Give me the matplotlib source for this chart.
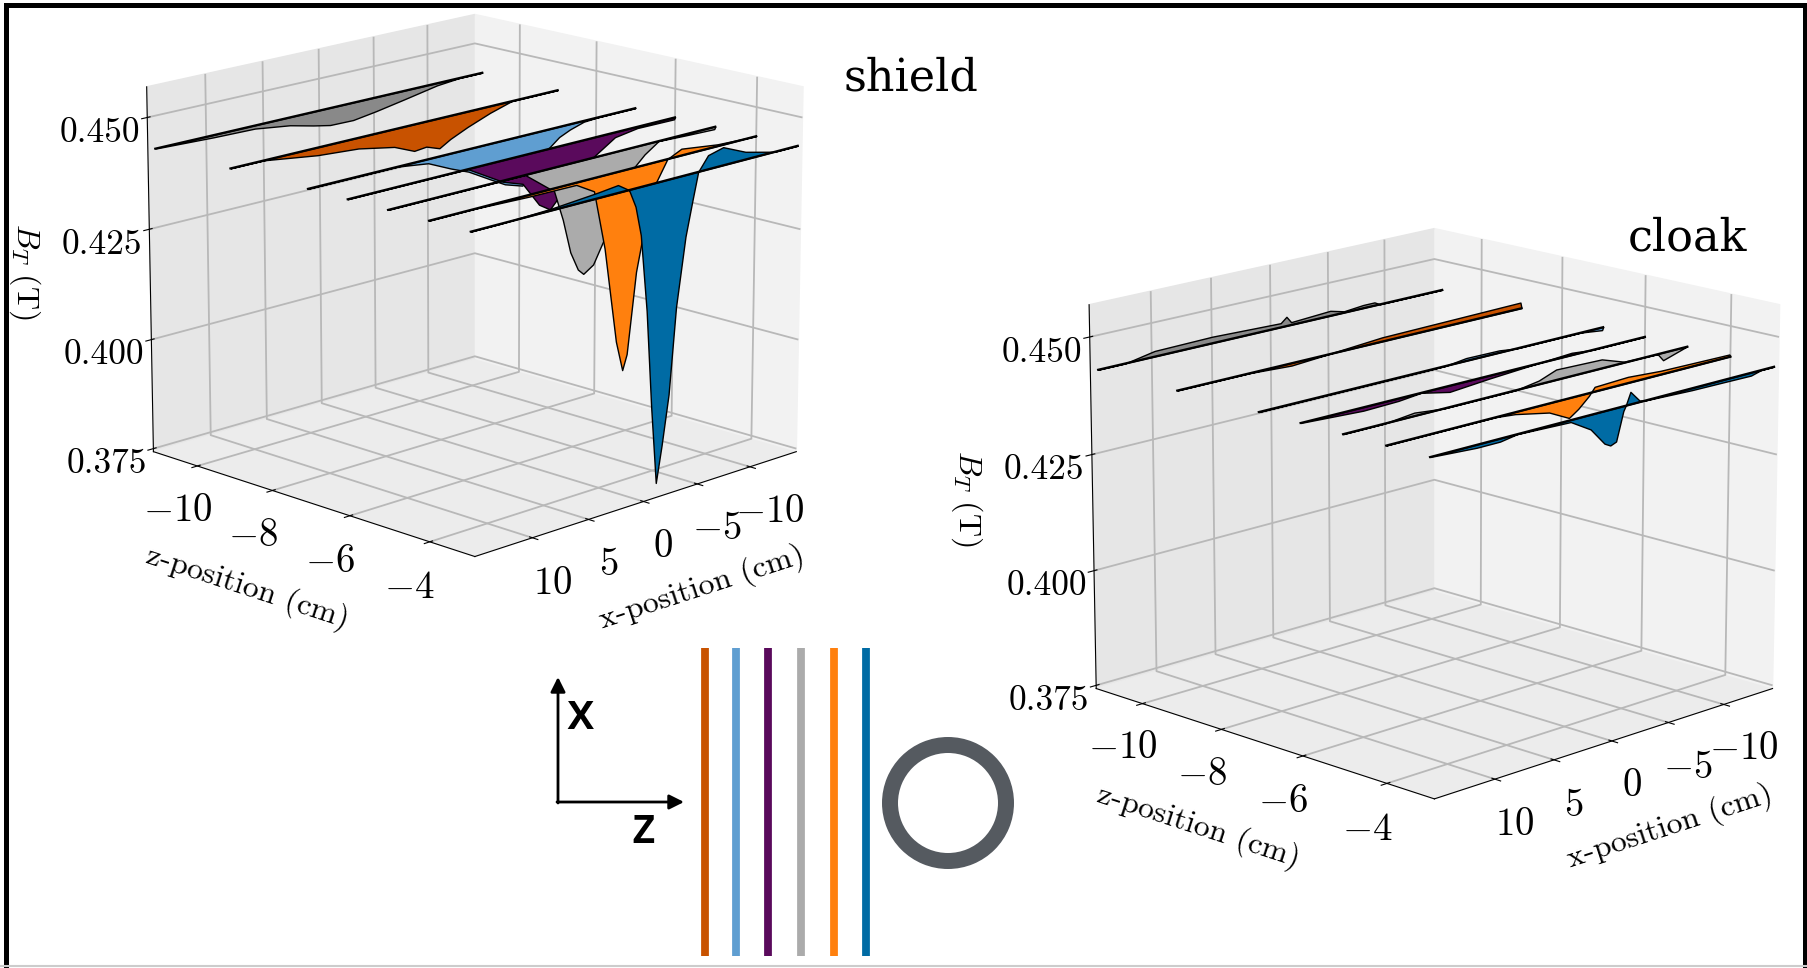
import numpy as np
import matplotlib
matplotlib.use('Agg')
import matplotlib.pyplot as plt
from matplotlib.patches import Rectangle, Wedge
from mpl_toolkits.mplot3d.art3d import Poly3DCollection

plt.rcParams['font.family'] = ['cmr10', 'DejaVu Serif']
plt.rcParams['mathtext.fontset'] = 'cm'
plt.rcParams['axes.formatter.use_mathtext'] = True

W, H = 1807, 968

# scan planes (z-position in cm), back to front
z_planes = [-11, -9, -7, -6, -5, -4, -3]
colors = ['#898989', '#C85200', '#5F9ED1', '#5A0A5C', '#ABABAB', '#FF800E', '#006BA4']
baseline = 0.4435
x_ends = [15, -14.5]

# shield profiles
sh_x1 = [15, 10, 6.4, 3.3, 1.2, -0.3, -2.4, -4.5, -7.1, -10.2, -12.3, -14.5]
sh_b1 = [.4435, .4430, .4428, .4417, .4404, .4396, .4395, .4403, .4415, .4430, .4435, .4435]
sh_x2 = [15, 12.1, 7.5, 3.9, 0.7, -1.1, -2.2, -3.4, -4.4, -6, -8.1, -10.1, -14.5]
sh_b2 = [.4435, .4435, .4418, .4411, .4395, .4375, .4378, .4367, .4382, .44, .442, .4435, .4435]
sh_x3 = [15, 7.2, 4.6, 2.6, 1, -1, -2.3, -3.9, -6.2, -7.3, -8.3, -9.6, -10.9, -14.5]
sh_b3 = [.4435, .4435, .4426, .4402, .4385, .4355, .4336, .4323, .439, .4412, .4423, .4433, .4435, .4435]
sh_x4 = [15, 4.6, 1.5, -0.3, -1.8, -2.8, -4.7, -7, -8.8, -10.9, -14.4, -14.5]
sh_b4 = [.4435, .4435, .4388, .4372, .4316, .4299, .4352, .4395, .4424, .4432, .4431, .4435]
sh_x5 = [15, 3.1, 0.5, -0.3, -1, -1.7, -2.2, -3.1, -3.9, -5.2, -6.5, -7.8, -9.1, -11.9, -14.4, -14.5]
sh_b5 = [.4435, .4435, .4383, .4315, .4238, .4195, .4182, .4197, .4237, .43, .4382, .4413, .4435, .4432, .4430, .4435]
sh_x6 = [15, 11, 6.3, 2.2, 0.6, -0.4, -1.5, -2.1, -2.5, -3.3, -4.6, -6.1, -7.4, -10.8, -14.4, -14.5]
sh_b6 = [.4435, .4435, .4431, .443, .4406, .4274, .4060, .3992, .4025, .4203, .4369, .4435, .445, .4439, .4435, .4435]
sh_x7 = [15, 12.5, 8, 4, 2.2, 1.2, 0.6, 0.1, -0.5, -1, -1.5, -2, -2.6, -3.2, -4, -4.6, -5.1, -6, -7.4, -9.5, -12.3, -14.5]
sh_b7 = [.4435, .4435, .4439, .4447, .4452, .4435, .4395, .4330, .4160, .3945, .3770, .3850, .3960, .4150, .4300, .4375, .4435, .4466, .4475, .4452, .4435, .4435]

# cloak profiles
cl_x1 = [15, 12.8, 10.4, 5.6, -0.2, -0.7, -1.1, -4.5, -5.7, -7.4, -8.4, -8.9, -14.5]
cl_b1 = [.4435, .4435, .4447, .4449, .4444, .4455, .4441, .4446, .4438, .4442, .4442, .4435, .4435]
cl_x2 = [15, 9, 5.6, 2.7, 1.7, -2.1, -14.4, -14.5]
cl_b2 = [.4435, .4435, .4430, .4435, .4437, .4444, .4448, .4435]
cl_x3 = [15, -0.5, -2.3, -5.2, -6.7, -12.5, -14.4, -14.5]
cl_b3 = [.4435, .4435, .4441, .4440, .4435, .4435, .4429, .4435]
cl_x4 = [15, 9.9, 7, 5.1, 2.7, -0.7, -4.5, -7.9, -9.8, -14.5]
cl_b4 = [.4435, .4428, .443, .4435, .4422, .4429, .4435, .4440, .4435, .4435]
cl_x5 = [15, 11.7, 9.2, 6.7, 0.7, -1.3, -2.8, -6.8, -8.8, -11.8, -12.3, -14.4, -14.5]
cl_b5 = [.4435, .4435, .4442, .4435, .4435, .4443, .4457, .4454, .4437, .4435, .4419, .4435, .4435]
cl_x6 = [15, 6, 4.4, 1.5, -0.2, -1, -1.9, -2.4, -5.3, -8.2, -14.4, -14.5]
cl_b6 = [.4435, .4435, .4431, .4416, .4394, .4408, .4429, .4445, .4448, .4443, .4440, .4435]
cl_x7 = [15, 11.2, 9.3, 7.9, 3.4, 1.7, 0.5, 0, -0.5, -1.1, -1.3, -1.7, -2.5, -3.1, -7.1, -10, -12.4, -13.3, -14.5]
cl_b7 = [.4435, .4429, .4429, .4435, .4431, .4405, .4368, .4361, .4366, .4425, .4435, .4461, .4438, .4435, .4431, .443, .4429, .4435, .4435]

shield = [(sh_x1, sh_b1), (sh_x2, sh_b2), (sh_x3, sh_b3), (sh_x4, sh_b4),
          (sh_x5, sh_b5), (sh_x6, sh_b6), (sh_x7, sh_b7)]
cloak = [(cl_x1, cl_b1), (cl_x2, cl_b2), (cl_x3, cl_b3), (cl_x4, cl_b4),
         (cl_x5, cl_b5), (cl_x6, cl_b6), (cl_x7, cl_b7)]

z_ticks = [-10, -8, -6, -4]
x_ticks = [-10, -5, 0, 5, 10]
b_ticks = [0.375, 0.400, 0.425, 0.450]
b_labels = ['0.375', '0.400', '0.425', '0.450']

# schematic
strip_x = [705, 736, 768, 801, 834, 866]
strip_colors = colors[1:]


def draw_panel(rect, profiles):
    ax = fig.add_axes(rect, projection='3d')
    ax.computed_zorder = False
    ax.patch.set_alpha(0)
    ax.view_init(elev=15.7, azim=45)
    ax.set_proj_type('persp', focal_length=1.25)
    ax.set_box_aspect((4, 4, 3.3))
    for i, (x, b) in enumerate(profiles):
        z = z_planes[i]
        verts = [list(zip(x, np.full(len(x), z), b))]
        poly = Poly3DCollection(verts, facecolor=colors[i], edgecolor='black',
                                linewidth=1.0, zorder=2 * i + 1)
        ax.add_collection3d(poly)
        ax.plot(x_ends, [z, z], [baseline, baseline], color='black', lw=1.5, zorder=2 * i + 2)
    ax.set_xlim(-14.5, 15)
    ax.set_ylim(-11.2, -2.9)
    ax.set_zlim(0.3743, 0.4568)
    ax.set_xticks(x_ticks)
    ax.set_yticks(z_ticks)
    ax.set_zticks(b_ticks)
    ax.set_zticklabels(b_labels)
    ax.tick_params(axis='z', labelsize=25.5, pad=12)
    ax.tick_params(axis='x', labelsize=28, pad=8)
    ax.tick_params(axis='y', labelsize=28, pad=8)
    ax.xaxis.set_pane_color((0.95, 0.95, 0.95, 1))
    ax.yaxis.set_pane_color((0.90, 0.90, 0.90, 1))
    ax.zaxis.set_pane_color((0.925, 0.925, 0.925, 1))
    for a in (ax.xaxis, ax.yaxis, ax.zaxis):
        a._axinfo['grid']['color'] = '#b8b8b8'
        a._axinfo['grid']['linewidth'] = 1.3
    ax.set_xlabel('x-position (cm)', fontsize=23, labelpad=28, rotation=22)
    ax.set_ylabel('z-position (cm)', fontsize=23, labelpad=28, rotation=-22)
    ax.zaxis.set_rotate_label(False)
    ax.set_zlabel('$B_T$ (T)', fontsize=23, labelpad=32, rotation=-90)
    return ax


fig = plt.figure(figsize=(W / 100, H / 100), dpi=100)

draw_panel([(465 - 365) / W, 1 - (281 + 365) / H, 730 / W, 730 / H], shield)
draw_panel([(1424 - 384) / W, 1 - (509 + 384) / H, 768 / W, 768 / H], cloak)

over = fig.add_axes([0, 0, 1, 1], zorder=10)
over.set_xlim(0, W)
over.set_ylim(H, 0)
over.axis('off')
over.patch.set_alpha(0)

for sx, c in zip(strip_x, strip_colors):
    over.plot([sx, sx], [648, 956], color=c, lw=5.6, solid_capstyle='butt')
over.add_patch(Wedge((948, 803), 66, 0, 360, width=16, facecolor='#555a60', edgecolor='none'))
over.annotate('', xy=(558, 677), xytext=(558, 803),
              arrowprops=dict(arrowstyle='-|>', lw=2, color='black', shrinkA=0, shrinkB=0, mutation_scale=22))
over.annotate('', xy=(684, 802), xytext=(557, 802),
              arrowprops=dict(arrowstyle='-|>', lw=2, color='black', shrinkA=0, shrinkB=0, mutation_scale=22))
over.text(580, 716, 'x', fontsize=36, family='Open Sans', fontweight='semibold', ha='center', va='center')
over.text(643, 830, 'z', fontsize=36, family='Open Sans', fontweight='semibold', ha='center', va='center')
over.text(911, 78, 'shield', fontsize=32, family='DejaVu Serif', ha='center', va='center')
over.text(1688, 238, 'cloak', fontsize=32, family='DejaVu Serif', ha='center', va='center')
over.plot([0, W], [966, 966], color='#cccccc', lw=1.5)

fig.add_artist(Rectangle((0.0035, -0.01), 0.9955, 1.005, transform=fig.transFigure,
                         fill=False, edgecolor='black', lw=3.6))
fig.savefig('out.png', dpi=100)
